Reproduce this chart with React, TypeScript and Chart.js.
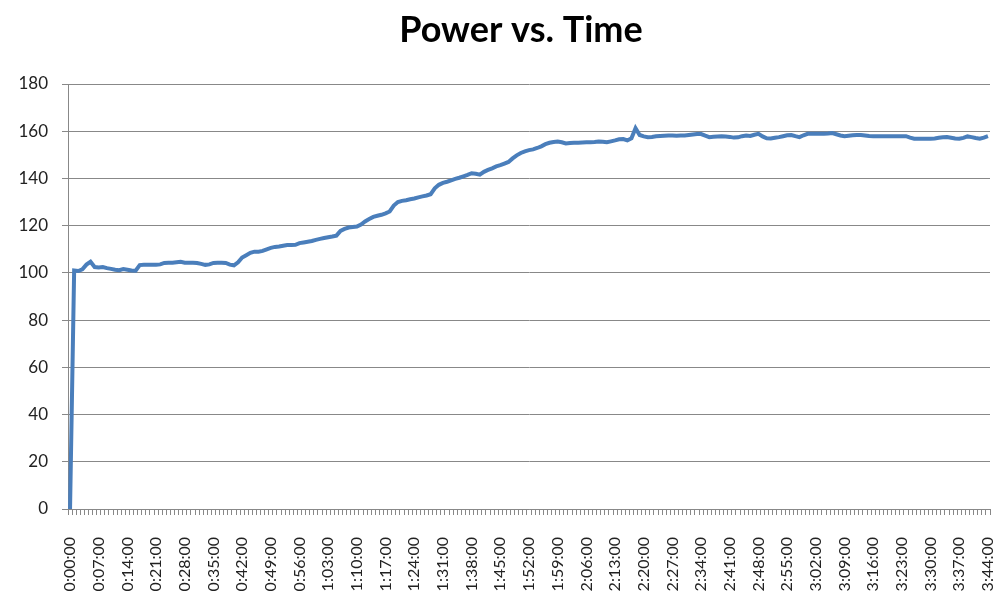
import React, { useEffect, useRef } from "react";
import { Chart, registerables } from "chart.js";

Chart.register(...registerables);

// Power readings, one per minute from 0:00:00 to 3:44:00
const power: number[] = [
  0, 101, 100.8, 101.5, 103.5, 104.7, 102.5, 102.3, 102.5, 102,
  101.7, 101.3, 101.1, 101.6, 101.3, 101, 100.9, 103.3, 103.4, 103.4,
  103.5, 103.5, 103.6, 104.2, 104.3, 104.3, 104.5, 104.7, 104.3, 104.3,
  104.3, 104.2, 103.8, 103.4, 103.6, 104.2, 104.3, 104.3, 104.2, 103.5,
  103.2, 104.5, 106.5, 107.5, 108.5, 109, 109, 109.3, 110, 110.6,
  111, 111.2, 111.5, 111.8, 111.8, 111.9, 112.6, 112.9, 113.2, 113.5,
  114, 114.4, 114.8, 115.1, 115.4, 115.8, 117.8, 118.6, 119.2, 119.4,
  119.6, 120.5, 121.8, 122.8, 123.7, 124.2, 124.6, 125.2, 126, 128.5,
  130, 130.5, 130.8, 131.2, 131.5, 132, 132.4, 132.8, 133.3, 135.8,
  137.3, 138.1, 138.6, 139.2, 139.8, 140.3, 140.9, 141.5, 142.2, 142,
  141.6, 142.8, 143.6, 144.3, 145.1, 145.6, 146.3, 147, 148.5, 149.8,
  150.8, 151.5, 152, 152.3, 152.9, 153.6, 154.5, 155.1, 155.4, 155.6,
  155.3, 154.8, 155, 155.1, 155.1, 155.2, 155.3, 155.3, 155.4, 155.6,
  155.5, 155.3, 155.7, 156.1, 156.6, 156.7, 156.1, 157, 161.3, 158.4,
  157.8, 157.5, 157.6, 157.9, 158, 158.1, 158.2, 158.2, 158.1, 158.2,
  158.2, 158.4, 158.6, 158.8, 158.8, 158.1, 157.5, 157.7, 157.8, 157.9,
  157.8, 157.6, 157.3, 157.4, 157.9, 158.2, 158, 158.5, 158.9, 157.8,
  157, 156.9, 157.2, 157.5, 157.9, 158.3, 158.4, 157.9, 157.5, 158.3,
  158.9, 158.9, 158.9, 158.9, 158.9, 159, 159.2, 158.7, 158.2, 157.9,
  158.1, 158.3, 158.4, 158.4, 158.2, 158, 157.9, 157.9, 157.9, 157.9,
  157.9, 157.9, 157.9, 157.9, 157.9, 157.3, 156.8, 156.8, 156.8, 156.8,
  156.8, 156.9, 157.2, 157.4, 157.5, 157.2, 156.9, 156.8, 157.2, 157.8,
  157.5, 157.1, 156.8, 157.3, 157.9,
];

// Labels that are shown on the time axis
const tickLabels: string[] = [
  "0:00:00", "0:07:00", "0:14:00", "0:21:00", "0:28:00", "0:35:00", "0:42:00",
  "0:49:00", "0:56:00", "1:03:00", "1:10:00", "1:17:00", "1:24:00", "1:31:00",
  "1:38:00", "1:45:00", "1:52:00", "1:59:00", "2:06:00", "2:13:00", "2:20:00",
  "2:27:00", "2:34:00", "2:41:00", "2:48:00", "2:55:00", "3:02:00", "3:09:00",
  "3:16:00", "3:23:00", "3:30:00", "3:37:00", "3:44:00",
];

const titleText = "Power vs. Time";
const yMin = 0;
const yMax = 180;
const yStep = 20;

// one category per minute sample
const categories: string[] = power.map((_, i) => {
  const h = Math.floor(i / 60);
  const m = i % 60;
  return `${h}:${m < 10 ? "0" : ""}${m}:00`;
});

const FONT = "Lato, 'Open Sans', sans-serif";
const GRID = "#888888";

// Title centred over the plot area, like the spreadsheet chart
const plotTitle = {
  id: "plotTitle",
  afterDraw(chart: any) {
    const { ctx, chartArea } = chart;
    ctx.save();
    ctx.font = `bold 36px ${FONT}`;
    ctx.fillStyle = "#000";
    ctx.textAlign = "center";
    ctx.textBaseline = "middle";
    ctx.fillText(titleText, (chartArea.left + chartArea.right) / 2 - 8, 30);
    ctx.restore();
  },
};

export default function App() {
  const ref = useRef<HTMLCanvasElement | null>(null);

  useEffect(() => {
    if (!ref.current) return;
    const chart = new Chart(ref.current, {
      type: "line",
      data: {
        labels: categories,
        datasets: [
          {
            data: power,
            borderColor: "#4A7EBB",
            borderWidth: 4,
            pointRadius: 0,
            tension: 0,
            fill: false,
          },
        ],
      },
      plugins: [plotTitle],
      options: {
        animation: false,
        responsive: false,
        maintainAspectRatio: false,
        layout: { padding: { left: 0, right: 6, top: 84, bottom: 0 } },
        plugins: {
          legend: { display: false },
          tooltip: { enabled: false },
          title: { display: false },
        },
        scales: {
          x: {
            type: "category",
            offset: true,
            grid: {
              display: true,
              drawOnChartArea: false,
              drawTicks: true,
              tickLength: 6,
              color: GRID,
              offset: true,
            },
            border: { display: true, color: GRID, width: 1 },
            ticks: {
              autoSkip: false,
              maxRotation: 90,
              minRotation: 90,
              padding: 22,
              color: "#222",
              font: { family: FONT, size: 16 },
              callback: function (_v: any, idx: number) {
                const c = categories[idx];
                return tickLabels.includes(c) ? c : "";
              },
            },
            afterFit: (s: any) => {
              s.height = 91;
              s.paddingLeft = 0;
              s.paddingRight = 0;
            },
          },
          y: {
            min: yMin,
            max: yMax,
            ticks: {
              stepSize: yStep,
              padding: 14,
              color: "#222",
              font: { family: FONT, size: 17 },
            },
            grid: {
              color: GRID,
              lineWidth: 1,
              drawTicks: true,
              tickLength: 6,
            },
            border: { display: true, color: GRID, width: 1 },
            afterFit: (s: any) => {
              s.width = 68;
            },
          },
        },
      },
    });
    return () => chart.destroy();
  }, []);

  return (
    <div style={{ position: "absolute", left: 0, top: 0, width: 996, height: 600, background: "#fff" }}>
      <canvas ref={ref} width={996} height={600} style={{ display: "block" }} />
    </div>
  );
}
